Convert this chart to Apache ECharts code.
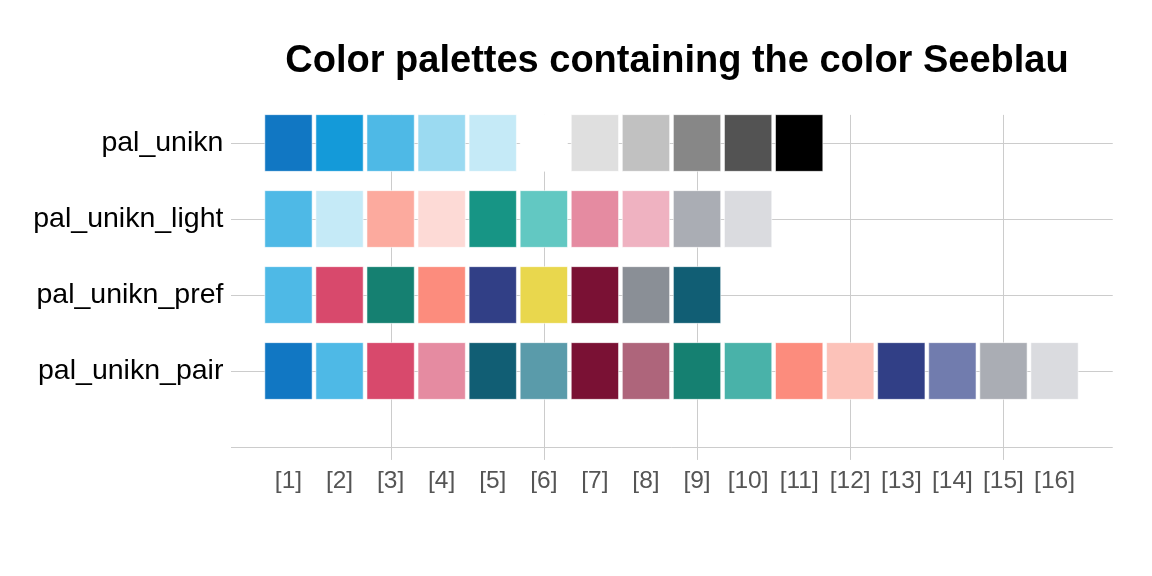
<!DOCTYPE html>
<html>
<head>
<meta charset="utf-8">
<script src="https://cdn.jsdelivr.net/npm/echarts@6/dist/echarts.min.js"></script>
<style>html,body{margin:0;padding:0;background:#fff;}#chart{width:1152px;height:576px;}</style>
</head>
<body>
<div id="chart"></div>
<script>
// ---- data ----
const paletteNames = ['pal_unikn', 'pal_unikn_light', 'pal_unikn_pref', 'pal_unikn_pair'];
const pal_unikn = ['#1177C3', '#149AD9', '#4EB9E6', '#9BDAF1', '#C5EAF7', '#FFFFFF', '#DFDFDF', '#C1C1C1', '#878787', '#535353', '#000000'];
const pal_unikn_light = ['#4EB9E6', '#C5EAF7', '#FCAA9E', '#FDDAD6', '#179585', '#62C8C2', '#E58BA1', '#EFB2C1', '#AAADB4', '#DADBDF'];
const pal_unikn_pref = ['#4EB9E6', '#D8496C', '#158071', '#FC8C7D', '#313F86', '#E9D74D', '#7A1134', '#8A8F96', '#115E74'];
const pal_unikn_pair = ['#1177C3', '#4EB9E6', '#D8496C', '#E58BA1', '#115E74', '#5A9BAA', '#7A1134', '#AE657B', '#158071', '#49B2A9', '#FC8C7D', '#FCC2B9', '#313F86', '#717CAE', '#AAADB4', '#DADBDF'];
const palettes = [pal_unikn, pal_unikn_light, pal_unikn_pref, pal_unikn_pair];
const xTickLabels = ['[1]','[2]','[3]','[4]','[5]','[6]','[7]','[8]','[9]','[10]','[11]','[12]','[13]','[14]','[15]','[16]'];
const rowLines = [0, 1, 2, 3, 4];
const colLines = [3, 6, 9, 12, 15];
const titleText = 'Color palettes containing the color Seeblau';

// ---- build ----
const nRows = palettes.length;
const tileData = [];
palettes.forEach((pal, r) => {
  const y = nRows - r;
  pal.forEach((c, i) => tileData.push({ value: [i + 1, y], itemStyle: { color: c } }));
});
const rowNameByY = {};
paletteNames.forEach((n, r) => { rowNameByY[nRows - r] = n; });

const HW = 0.463, HH = 0.373;
const GRID_COLOR = '#CCCCCC';

const chart = echarts.init(document.getElementById('chart'), null, { renderer: 'canvas' });
chart.setOption({
  backgroundColor: '#ffffff',
  animation: false,
  title: {
    text: titleText,
    left: 672,
    top: 38,
    textAlign: 'center',
    textStyle: { fontFamily: 'Liberation Sans', fontWeight: 'bold', fontSize: 38, color: '#000' }
  },
  grid: { left: 237.4, right: 46.4, top: 105, bottom: 129 },
  xAxis: {
    type: 'value', min: 0, max: 17, interval: 1,
    axisLine: { show: false }, axisTick: { show: false }, splitLine: { show: false },
    axisLabel: {
      margin: 22, fontFamily: 'Liberation Sans', fontSize: 24.5, color: '#555555',
      showMinLabel: true, showMaxLabel: true,
      formatter: v => (v >= 1 && v <= xTickLabels.length && Number.isInteger(v)) ? xTickLabels[v - 1] : ''
    }
  },
  yAxis: {
    type: 'value', min: 0, max: 4.5, interval: 1,
    axisLine: { show: false }, axisTick: { show: false }, splitLine: { show: false },
    axisLabel: {
      margin: 14, fontFamily: 'Liberation Sans', fontSize: 28.5, color: '#000000',
      formatter: v => rowNameByY[v] || ''
    }
  },
  series: [
    {
      type: 'custom', clip: false, silent: true, z: 1,
      data: rowLines.map(y => [0, y]),
      renderItem: (params, api) => {
        const y = api.value(1);
        const a = api.coord([-0.125, y]), b = api.coord([17.14, y]);
        return { type: 'line', shape: { x1: a[0], y1: Math.round(a[1]) + 0.5, x2: b[0], y2: Math.round(b[1]) + 0.5 }, style: { stroke: GRID_COLOR, lineWidth: 1 } };
      }
    },
    {
      type: 'custom', clip: false, silent: true, z: 1,
      data: colLines.map(x => [x, 0]),
      renderItem: (params, api) => {
        const x = api.value(0);
        const a = api.coord([x, 4.37]), b = api.coord([x, -0.17]);
        return { type: 'line', shape: { x1: Math.round(a[0]) + 0.5, y1: a[1], x2: Math.round(b[0]) + 0.5, y2: b[1] }, style: { stroke: GRID_COLOR, lineWidth: 1 } };
      }
    },
    {
      type: 'custom', clip: false, z: 2,
      data: tileData,
      renderItem: (params, api) => {
        const x = api.value(0), y = api.value(1);
        const p0 = api.coord([x - HW, y + HH]);
        const p1 = api.coord([x + HW, y - HH]);
        return {
          type: 'rect',
          shape: { x: p0[0], y: p0[1], width: p1[0] - p0[0], height: p1[1] - p0[1] },
          style: { fill: api.visual('color'), stroke: 'rgba(255,255,255,0.55)', lineWidth: 1 }
        };
      }
    }
  ]
});
</script>
</body>
</html>
